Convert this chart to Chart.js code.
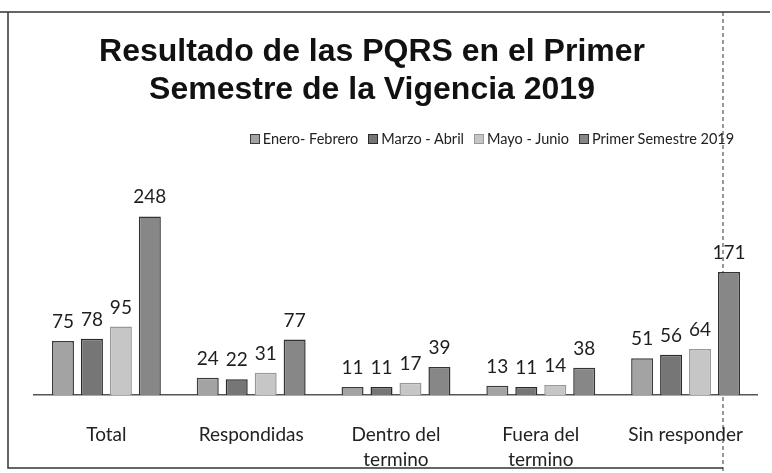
<!DOCTYPE html>
<html lang="es">
<head>
<meta charset="utf-8">
<title>Resultado de las PQRS</title>
<script src="https://cdn.jsdelivr.net/npm/chart.js@4.4.1/dist/chart.umd.min.js"></script>
<style>
    html, body { margin: 0; padding: 0; background: #fff; }
    #wrap { position: relative; width: 772px; height: 473px; overflow: hidden; }
    #chart { position: absolute; left: 0; top: 0; }
    #titulo {
        position: absolute; left: 8px; top: 31px; width: 728px;
        font: bold 32px "Liberation Sans", Arial, sans-serif; line-height: 38px;
        text-align: center; color: #111;
    }
    #leyenda {
        position: absolute; left: 222px; top: 130px; width: 540px;
        display: flex; justify-content: center; align-items: center;
        font: 14.5px Lato, sans-serif; color: #222; white-space: nowrap;
    }
    #leyenda span.item { display: inline-flex; align-items: center; margin: 0 5px; }
    #leyenda span.caja { width: 10px; height: 10px; margin-right: 3px; box-sizing: border-box; }
</style>
</head>
<body>
<div id="wrap">
    <canvas id="chart" width="772" height="473"></canvas>
    <div id="titulo">Resultado de las PQRS en el Primer<br>Semestre de la Vigencia 2019</div>
    <div id="leyenda"></div>
</div>
<script>
// Datos
const categorias = ['Total', 'Respondidas', ['Dentro del', 'termino'], ['Fuera del', 'termino'], 'Sin responder'];
const nombresSeries = ['Enero- Febrero', 'Marzo - Abril', 'Mayo - Junio', 'Primer Semestre 2019'];
const eneroFebrero = [75, 24, 11, 13, 51];
const marzoAbril = [78, 22, 11, 11, 56];
const mayoJunio = [95, 31, 17, 14, 64];
const primerSemestre = [248, 77, 39, 38, 171];

// Colores (escaneo en grises)
const rellenos = ['#a3a3a3', '#767676', '#c6c6c6', '#878787'];
const bordes = ['#3c3c3c', '#2a2a2a', '#999999', '#333333'];

// Etiquetas de valor encima de cada barra
const etiquetasValor = {
    id: 'etiquetasValor',
    afterDatasetsDraw(chart) {
        const ctx = chart.ctx;
        ctx.save();
        ctx.font = '19px Lato, sans-serif';
        ctx.fillStyle = '#1e1e1e';
        ctx.textAlign = 'center';
        ctx.textBaseline = 'alphabetic';
        chart.data.datasets.forEach((ds, i) => {
            chart.getDatasetMeta(i).data.forEach((bar, j) => {
                ctx.fillText(ds.data[j], bar.x, bar.y - 13);
            });
        });
        ctx.restore();
    }
};

// Marco del grafico
const marco = {
    id: 'marco',
    beforeDraw(chart) {
        const ctx = chart.ctx;
        ctx.save();
        ctx.strokeStyle = '#333';
        ctx.lineWidth = 1.5;
        ctx.beginPath();
        ctx.moveTo(0, 12); ctx.lineTo(770, 12);
        ctx.moveTo(8, 12); ctx.lineTo(8, 468); ctx.lineTo(723, 468);
        ctx.stroke();
        ctx.lineWidth = 1;
        ctx.setLineDash([4, 3]);
        ctx.beginPath();
        ctx.moveTo(723, 12); ctx.lineTo(723, 473);
        ctx.stroke();
        ctx.restore();
    }
};

const series = [eneroFebrero, marzoAbril, mayoJunio, primerSemestre];

const grafico = new Chart(document.getElementById('chart').getContext('2d'), {
    type: 'bar',
    data: {
        labels: categorias,
        datasets: series.map((datos, i) => ({
            label: nombresSeries[i],
            data: datos,
            backgroundColor: rellenos[i],
            borderColor: bordes[i],
            borderWidth: 1.5,
            categoryPercentage: 0.8,
            barPercentage: 0.76
        }))
    },
    options: {
        responsive: false,
        animation: false,
        layout: { padding: { left: 34, right: 11, top: 179, bottom: 0 } },
        plugins: {
            legend: { display: false },
            title: { display: false },
            tooltip: { enabled: false }
        },
        scales: {
            x: {
                grid: { display: false, drawTicks: false },
                border: { display: true, color: '#555', width: 1.5, dash: [3, 1] },
                ticks: {
                    padding: 28,
                    color: '#222',
                    font: { family: 'Lato, sans-serif', size: 19, lineHeight: 1.3 },
                    maxRotation: 0
                },
                afterFit(scale) { scale.height = 78; }
            },
            y: {
                display: false,
                min: 0,
                max: 300
            }
        }
    },
    plugins: [marco, etiquetasValor]
});

// Leyenda en HTML construida desde los datasets
const leyenda = document.getElementById('leyenda');
grafico.data.datasets.forEach(ds => {
    const item = document.createElement('span');
    item.className = 'item';
    const caja = document.createElement('span');
    caja.className = 'caja';
    caja.style.background = ds.backgroundColor;
    caja.style.border = '1px solid ' + ds.borderColor;
    item.appendChild(caja);
    item.appendChild(document.createTextNode(ds.label));
    leyenda.appendChild(item);
});
</script>
</body>
</html>
